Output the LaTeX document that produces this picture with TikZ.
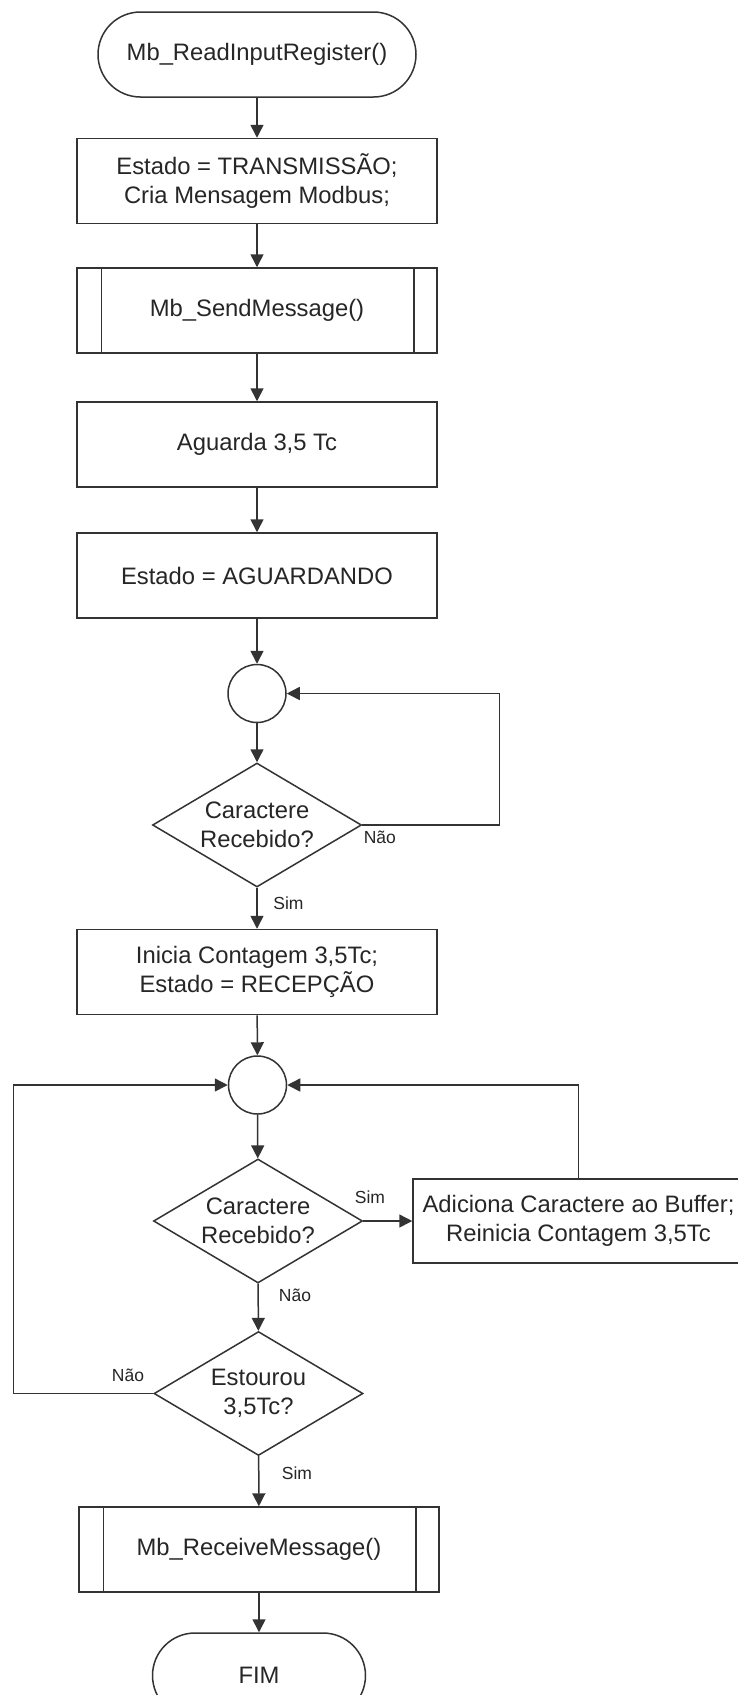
\documentclass[tikz,border=0pt]{standalone}
\usepackage{fontspec}
\setmainfont{Liberation Sans}
\usetikzlibrary{shapes.geometric,arrows.meta}

\begin{document}
\begin{tikzpicture}[x=1pt,y=-1pt,
  line width=1.5pt, draw=black!80,
  every node/.style={font=\fontsize{23.8}{29}\selectfont, text=black!85, align=center},
  proc/.style={draw, rectangle, minimum width=360pt, minimum height=85pt, inner sep=0pt},
  term/.style={draw, rectangle, rounded corners=42.5pt, minimum height=85pt, inner sep=0pt},
  junction/.style={draw, circle, minimum size=58pt, inner sep=0pt},
  decision/.style={draw, diamond, shape aspect=1.685, minimum width=209pt, minimum height=124pt, inner sep=0pt},
  lbl/.style={font=\fontsize{17.5}{20}\selectfont, inner sep=0pt},
  arr/.style={-{Triangle[length=13pt,width=13pt]}},
]
\useasboundingbox (0,0) rectangle (738,1695);
\fill[white] (0,0) rectangle (738,1695);
\clip (0,0) rectangle (738,1695);

% main column
\node[term, minimum width=318pt] (start) at (257,54.5) {Mb\_ReadInputRegister()};
\node[proc] (tx)   at (257,181)   {Estado = TRANSMISSÃO;\\Cria Mensagem Modbus;};
\node[proc] (send) at (257,310.5) {Mb\_SendMessage()};
\node[proc] (wait) at (257,444.5) {Aguarda 3,5 Tc};
\node[proc] (idle) at (257,575.5) {Estado = AGUARDANDO};
\node[junction] (j1) at (257,693.5) {};
\node[decision] (d1) at (257,825) {Caractere\\Recebido?};
\node[proc] (rx)   at (257,972) {Inicia Contagem 3,5Tc;\\Estado = RECEPÇÃO};
\node[junction] (j2) at (257.5,1085) {};
\node[decision] (d2) at (258,1221) {Caractere\\Recebido?};
\node[proc, minimum width=331pt, minimum height=84pt] (buf) at (578.5,1221)
  {Adiciona Caractere ao Buffer;\\Reinicia Contagem 3,5Tc};
\node[decision] (d3) at (258.5,1393.5) {Estourou\\3,5Tc?};
\node[proc] (recv) at (259,1549.5) {Mb\_ReceiveMessage()};
\node[term, minimum width=213pt] (fim) at (259,1675.5) {FIM};

% subprocess side bars
\foreach \n in {send,recv} {
  \draw ([xshift=25pt]\n.north west) -- ([xshift=25pt]\n.south west);
  \draw ([xshift=-24pt]\n.north east) -- ([xshift=-24pt]\n.south east);
}

% flow
\draw[arr] (start) -- (tx);
\draw[arr] (tx) -- (send);
\draw[arr] (send) -- (wait);
\draw[arr] (wait) -- (idle);
\draw[arr] (idle) -- (j1);
\draw[arr] (j1) -- (d1);
\draw[arr] (d1.east) -- ++(137,0) |- (j1.east);
\draw[arr] (d1) -- (rx);
\draw[arr] (rx) -- (j2);
\draw[arr] (j2) -- (d2);
\draw[arr] (d2) -- (buf);
\draw[arr] (buf.north) |- (j2.east);
\draw[arr] (d2) -- (d3);
\draw[arr] (d3.west) -- ++(-140,0) |- (j2.west);
\draw[arr] (d3) -- (recv);
\draw[arr] (recv) -- (fim);

% branch labels
\node[lbl, anchor=west] (n1) at (363,837) {Não};
\node[lbl] (s1) at (288.5,903) {Sim};
\node[lbl] (s2) at (370,1197) {Sim};
\node[lbl] (n2) at (295,1295) {Não};
\node[lbl] (n3) at (128,1375) {Não};
\node[lbl] (s3) at (297,1473) {Sim};
\end{tikzpicture}
\end{document}
